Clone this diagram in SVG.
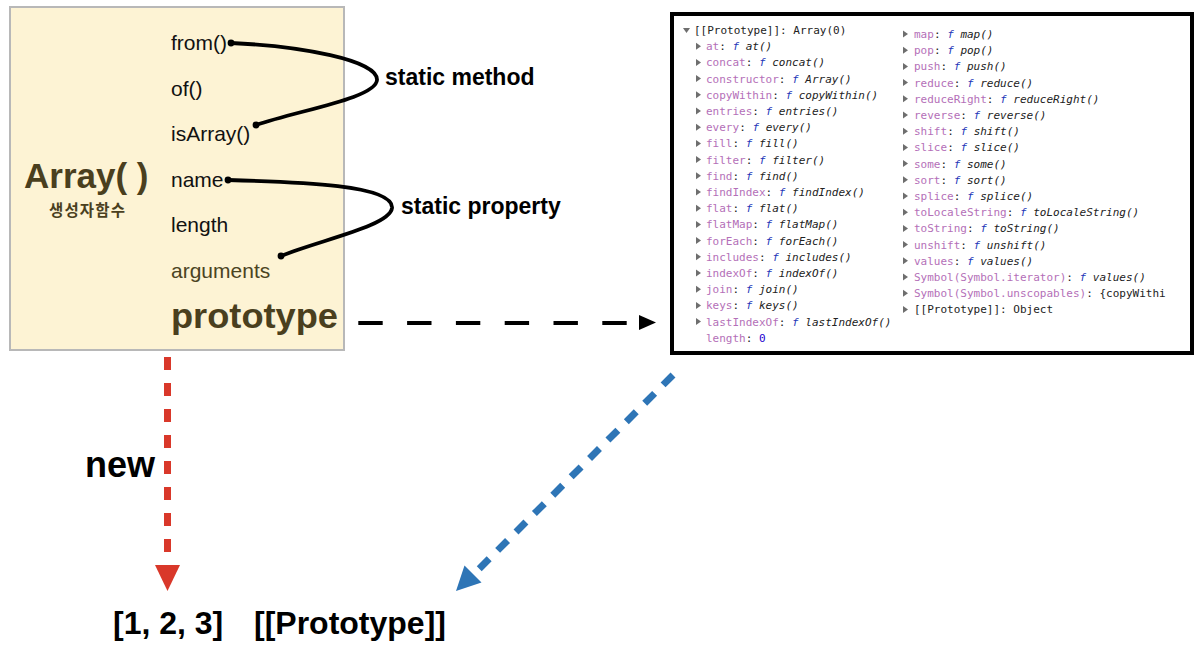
<svg xmlns="http://www.w3.org/2000/svg" xmlns:xlink="http://www.w3.org/1999/xlink" width="1200" height="653" viewBox="0 0 1200 653">
<style>
.lbl{font-family:"Liberation Sans",Arial,sans-serif;font-size:21px;fill:#111}
.big{font-family:"Liberation Sans",Arial,sans-serif;font-weight:bold;fill:#4a3f1e}
.kr{font-family:"Noto Sans CJK KR","Noto Sans CJK SC",sans-serif;font-weight:bold;font-size:15.5px;fill:#4a3f1e}
.bold{font-family:"Liberation Sans",Arial,sans-serif;font-weight:bold;fill:#000}
.mono{font-family:"DejaVu Sans Mono","Liberation Mono",monospace;font-size:11px;fill:#222}
.k{fill:#b46fb8}
.f{fill:#2436b8;font-style:italic}
.fn{font-style:italic;fill:#222}
.n{fill:#1c00cf}
.tri{fill:#6e6e6e}
.curve{fill:none;stroke:#000;stroke-width:3.8;stroke-linecap:round}
</style>
<defs>
<path id="tr" d="M0,-3.5 L5,0 L0,3.5 Z" class="tri"/>
</defs>
<rect width="1200" height="653" fill="#fff"/>

<g id="array-node">
<rect x="10" y="7" width="334" height="343" fill="#fdf3d4" stroke="#b8b8b8" stroke-width="2"/>
<text class="big" x="24" y="188" font-size="35">Array( )</text>
<text class="kr" x="87" y="216" text-anchor="middle" textLength="76" lengthAdjust="spacing">생성자함수</text>
<text class="lbl" x="171" y="50">from()</text>
<text class="lbl" x="171" y="96">of()</text>
<text class="lbl" x="171" y="141">isArray()</text>
<text class="lbl" x="171" y="187">name</text>
<text class="lbl" x="171" y="232">length</text>
<text class="lbl" x="171" y="278" style="fill:#4b4423">arguments</text>
<text class="big" x="171" y="328" font-size="35" textLength="167" lengthAdjust="spacingAndGlyphs">prototype</text>
</g>

<g id="static-labels">
<text class="bold" x="385" y="85" font-size="23">static method</text>
<text class="bold" x="401" y="214" font-size="23">static property</text>
</g>

<g id="console-node">
<rect x="672" y="14" width="520" height="339" fill="#fff" stroke="#000" stroke-width="4"/>
<path d="M683,28 L690,28 L686.5,33 Z" class="tri"/>
<text class="mono" x="694" y="34">[[Prototype]]: Array(0)</text>
<g>
<use href="#tr" x="696" y="46.2"/><use href="#tr" x="696" y="62.4"/><use href="#tr" x="696" y="78.6"/><use href="#tr" x="696" y="94.8"/><use href="#tr" x="696" y="111"/><use href="#tr" x="696" y="127.2"/><use href="#tr" x="696" y="143.4"/><use href="#tr" x="696" y="159.6"/><use href="#tr" x="696" y="175.8"/><use href="#tr" x="696" y="192"/><use href="#tr" x="696" y="208.2"/><use href="#tr" x="696" y="224.4"/><use href="#tr" x="696" y="240.6"/><use href="#tr" x="696" y="256.8"/><use href="#tr" x="696" y="273"/><use href="#tr" x="696" y="289.2"/><use href="#tr" x="696" y="305.4"/><use href="#tr" x="696" y="321.6"/>
</g>
<g class="mono">
<text x="706" y="50.2"><tspan class="k">at</tspan>: <tspan class="f">f</tspan> <tspan class="fn">at()</tspan></text>
<text x="706" y="66.4"><tspan class="k">concat</tspan>: <tspan class="f">f</tspan> <tspan class="fn">concat()</tspan></text>
<text x="706" y="82.6"><tspan class="k">constructor</tspan>: <tspan class="f">f</tspan> <tspan class="fn">Array()</tspan></text>
<text x="706" y="98.8"><tspan class="k">copyWithin</tspan>: <tspan class="f">f</tspan> <tspan class="fn">copyWithin()</tspan></text>
<text x="706" y="115"><tspan class="k">entries</tspan>: <tspan class="f">f</tspan> <tspan class="fn">entries()</tspan></text>
<text x="706" y="131.2"><tspan class="k">every</tspan>: <tspan class="f">f</tspan> <tspan class="fn">every()</tspan></text>
<text x="706" y="147.4"><tspan class="k">fill</tspan>: <tspan class="f">f</tspan> <tspan class="fn">fill()</tspan></text>
<text x="706" y="163.6"><tspan class="k">filter</tspan>: <tspan class="f">f</tspan> <tspan class="fn">filter()</tspan></text>
<text x="706" y="179.8"><tspan class="k">find</tspan>: <tspan class="f">f</tspan> <tspan class="fn">find()</tspan></text>
<text x="706" y="196"><tspan class="k">findIndex</tspan>: <tspan class="f">f</tspan> <tspan class="fn">findIndex()</tspan></text>
<text x="706" y="212.2"><tspan class="k">flat</tspan>: <tspan class="f">f</tspan> <tspan class="fn">flat()</tspan></text>
<text x="706" y="228.4"><tspan class="k">flatMap</tspan>: <tspan class="f">f</tspan> <tspan class="fn">flatMap()</tspan></text>
<text x="706" y="244.6"><tspan class="k">forEach</tspan>: <tspan class="f">f</tspan> <tspan class="fn">forEach()</tspan></text>
<text x="706" y="260.8"><tspan class="k">includes</tspan>: <tspan class="f">f</tspan> <tspan class="fn">includes()</tspan></text>
<text x="706" y="277"><tspan class="k">indexOf</tspan>: <tspan class="f">f</tspan> <tspan class="fn">indexOf()</tspan></text>
<text x="706" y="293.2"><tspan class="k">join</tspan>: <tspan class="f">f</tspan> <tspan class="fn">join()</tspan></text>
<text x="706" y="309.4"><tspan class="k">keys</tspan>: <tspan class="f">f</tspan> <tspan class="fn">keys()</tspan></text>
<text x="706" y="325.6"><tspan class="k">lastIndexOf</tspan>: <tspan class="f">f</tspan> <tspan class="fn">lastIndexOf()</tspan></text>
<text x="706" y="341.8"><tspan class="k">length</tspan>: <tspan class="n">0</tspan></text>
</g>
<g>
<use href="#tr" x="903" y="34"/><use href="#tr" x="903" y="50.2"/><use href="#tr" x="903" y="66.4"/><use href="#tr" x="903" y="82.6"/><use href="#tr" x="903" y="98.8"/><use href="#tr" x="903" y="115"/><use href="#tr" x="903" y="131.2"/><use href="#tr" x="903" y="147.4"/><use href="#tr" x="903" y="163.6"/><use href="#tr" x="903" y="179.8"/><use href="#tr" x="903" y="196"/><use href="#tr" x="903" y="212.2"/><use href="#tr" x="903" y="228.4"/><use href="#tr" x="903" y="244.6"/><use href="#tr" x="903" y="260.8"/><use href="#tr" x="903" y="277"/><use href="#tr" x="903" y="293.2"/><use href="#tr" x="903" y="309.4"/>
</g>
<g class="mono">
<text x="914" y="38"><tspan class="k">map</tspan>: <tspan class="f">f</tspan> <tspan class="fn">map()</tspan></text>
<text x="914" y="54.2"><tspan class="k">pop</tspan>: <tspan class="f">f</tspan> <tspan class="fn">pop()</tspan></text>
<text x="914" y="70.4"><tspan class="k">push</tspan>: <tspan class="f">f</tspan> <tspan class="fn">push()</tspan></text>
<text x="914" y="86.6"><tspan class="k">reduce</tspan>: <tspan class="f">f</tspan> <tspan class="fn">reduce()</tspan></text>
<text x="914" y="102.8"><tspan class="k">reduceRight</tspan>: <tspan class="f">f</tspan> <tspan class="fn">reduceRight()</tspan></text>
<text x="914" y="119"><tspan class="k">reverse</tspan>: <tspan class="f">f</tspan> <tspan class="fn">reverse()</tspan></text>
<text x="914" y="135.2"><tspan class="k">shift</tspan>: <tspan class="f">f</tspan> <tspan class="fn">shift()</tspan></text>
<text x="914" y="151.4"><tspan class="k">slice</tspan>: <tspan class="f">f</tspan> <tspan class="fn">slice()</tspan></text>
<text x="914" y="167.6"><tspan class="k">some</tspan>: <tspan class="f">f</tspan> <tspan class="fn">some()</tspan></text>
<text x="914" y="183.8"><tspan class="k">sort</tspan>: <tspan class="f">f</tspan> <tspan class="fn">sort()</tspan></text>
<text x="914" y="200"><tspan class="k">splice</tspan>: <tspan class="f">f</tspan> <tspan class="fn">splice()</tspan></text>
<text x="914" y="216.2"><tspan class="k">toLocaleString</tspan>: <tspan class="f">f</tspan> <tspan class="fn">toLocaleString()</tspan></text>
<text x="914" y="232.4"><tspan class="k">toString</tspan>: <tspan class="f">f</tspan> <tspan class="fn">toString()</tspan></text>
<text x="914" y="248.6"><tspan class="k">unshift</tspan>: <tspan class="f">f</tspan> <tspan class="fn">unshift()</tspan></text>
<text x="914" y="264.8"><tspan class="k">values</tspan>: <tspan class="f">f</tspan> <tspan class="fn">values()</tspan></text>
<text x="914" y="281"><tspan class="k">Symbol(Symbol.iterator)</tspan>: <tspan class="f">f</tspan> <tspan class="fn">values()</tspan></text>
<text x="914" y="297.2"><tspan class="k">Symbol(Symbol.unscopables)</tspan>: {copyWithi</text>
<text x="914" y="313.4">[[Prototype]]: Object</text>
</g>
</g>

<g id="result-nodes">
<text class="bold" x="85" y="477" font-size="36">new</text>
<text class="bold" x="113" y="634" font-size="32">[1, 2, 3]</text>
<text class="bold" x="254" y="634" font-size="32">[[Prototype]]</text>
</g>

<g id="connectors">
<path class="curve" d="M231,43 C300,46 378,60 377,80 C376,98 300,110 256,125"/>
<circle cx="231" cy="43" r="3.4"/><circle cx="256" cy="125" r="3.4"/>
<path class="curve" d="M228,180 C300,182 394,185 392,208 C390,226 320,240 281,256"/>
<circle cx="228" cy="180" r="3.4"/><circle cx="281" cy="256" r="3.4"/>
<line x1="358.3" y1="323" x2="630" y2="323" stroke="#000" stroke-width="4" stroke-dasharray="24.4 24.4"/>
<polygon points="639,315 656,322.5 639,330" fill="#000"/>
<line x1="167.5" y1="357" x2="167.5" y2="552" stroke="#d9382a" stroke-width="7" stroke-dasharray="13 13"/>
<polygon points="155,565 180,565 167.5,591" fill="#d9382a"/>
<line x1="673" y1="375" x2="479" y2="569" stroke="#2e75b6" stroke-width="7" stroke-dasharray="14 12"/>
<polygon points="456,591 464.5,565.5 481.5,582.5" fill="#2e75b6"/>
</g>
</svg>
